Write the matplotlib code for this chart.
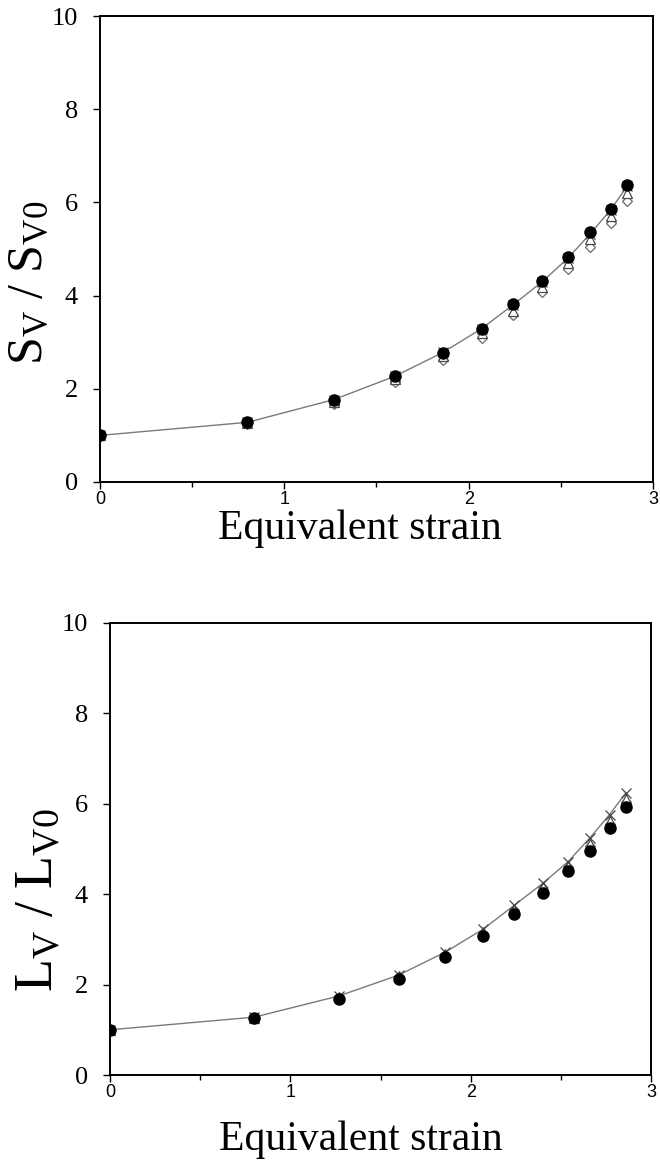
import numpy as np
from matplotlib import pyplot as plt
from matplotlib.ticker import MultipleLocator

plt.rcParams['font.family'] = ['Liberation Serif', 'DejaVu Serif']
plt.rcParams['mathtext.fontset'] = 'custom'
plt.rcParams['mathtext.rm'] = 'Liberation Serif'
plt.rcParams['mathtext.it'] = 'Liberation Serif:italic'

# equivalent strain after each pass
strain = [0, 0.80, 1.27, 1.60, 1.86, 2.07, 2.24, 2.40, 2.54, 2.66, 2.77, 2.86]

# surface area ratio Sv / Sv0
sv_calc = [1.0, 1.28, 1.77, 2.27, 2.78, 3.29, 3.80, 4.30, 4.81, 5.33, 5.84, 6.35]
sv_circle = [1.0, 1.28, 1.77, 2.27, 2.77, 3.28, 3.81, 4.31, 4.83, 5.36, 5.86, 6.38]
sv_triangle = [1.0, 1.26, 1.72, 2.20, 2.70, 3.20, 3.68, 4.18, 4.70, 5.22, 5.70, 6.20]
sv_diamond = [1.0, 1.25, 1.68, 2.15, 2.62, 3.09, 3.58, 4.08, 4.57, 5.04, 5.55, 6.02]

# edge length ratio Lv / Lv0
lv_calc = [1.0, 1.28, 1.75, 2.21, 2.72, 3.23, 3.75, 4.24, 4.72, 5.24, 5.76, 6.24]
lv_triangle = [1.0, 1.27, 1.72, 2.18, 2.67, 3.16, 3.66, 4.15, 4.63, 5.12, 5.62, 6.10]
lv_diamond = [1.0, 1.27, 1.70, 2.16, 2.65, 3.13, 3.62, 4.10, 4.58, 5.06, 5.55, 6.03]
lv_circle = [1.0, 1.27, 1.68, 2.12, 2.61, 3.08, 3.56, 4.03, 4.51, 4.96, 5.46, 5.93]

xticks = [0, 1, 2, 3]
yticks = [0, 2, 4, 6, 8, 10]


def draw_panel(ax, calc, circle, triangle, diamond, ylabel, ysize):
    ax.plot(strain, calc, '-', color='#7a7a7a', lw=1.0, zorder=2)
    ax.plot(strain, diamond, 'D', ms=5.5, mfc='white', mec='#6a6a6a', mew=0.9, zorder=3)
    ax.plot(strain, triangle, '^', ms=7, mfc='white', mec='#4a4a4a', mew=0.9, zorder=4)
    ax.plot(strain, calc, 'x', ms=7, color='#444444', mew=0.9, zorder=5)
    ax.plot(strain, circle, 'o', ms=8, color='black', zorder=6)

    ax.set_xlim(0, 3)
    ax.set_ylim(0, 10)
    ax.set_xticks(xticks)
    ax.xaxis.set_minor_locator(MultipleLocator(0.5))
    ax.set_yticks(yticks)
    ax.tick_params(axis='x', which='major', direction='out', length=5, width=1,
                   labelsize=13, pad=1.5, labelfontfamily='Liberation Sans')
    ax.tick_params(axis='x', which='minor', direction='out', length=3.5, width=1)
    ax.tick_params(axis='y', which='major', direction='out', length=5, width=1,
                   labelsize=19, pad=11)
    for s in ax.spines.values():
        s.set_linewidth(1.4)
    ax.set_xlabel('Equivalent strain', fontsize=30)
    ax.set_ylabel(ylabel, fontsize=ysize)


fig = plt.figure(figsize=(6.6, 11.69), dpi=100)

# top panel: surface area
ax1 = fig.add_axes([0.1515, 0.5877, 0.8379, 0.3986])
draw_panel(ax1, sv_calc, sv_circle, sv_triangle, sv_diamond,
           r'$\mathregular{S_V\ /\ S_{V0}}$', 36)
ax1.xaxis.set_label_coords(0.47, -0.058)
ax1.yaxis.set_label_coords(-0.085, 0.427)

# bottom panel: edge length
ax2 = fig.add_axes([0.1667, 0.0804, 0.8197, 0.3867])
draw_panel(ax2, lv_calc, lv_circle, lv_triangle, lv_diamond,
           r'$\mathregular{L_V\ /\ L_{V0}}$', 39)
ax2.xaxis.set_label_coords(0.463, -0.1)
ax2.yaxis.set_label_coords(-0.085, 0.387)

plt.savefig('out.png', dpi=100)
